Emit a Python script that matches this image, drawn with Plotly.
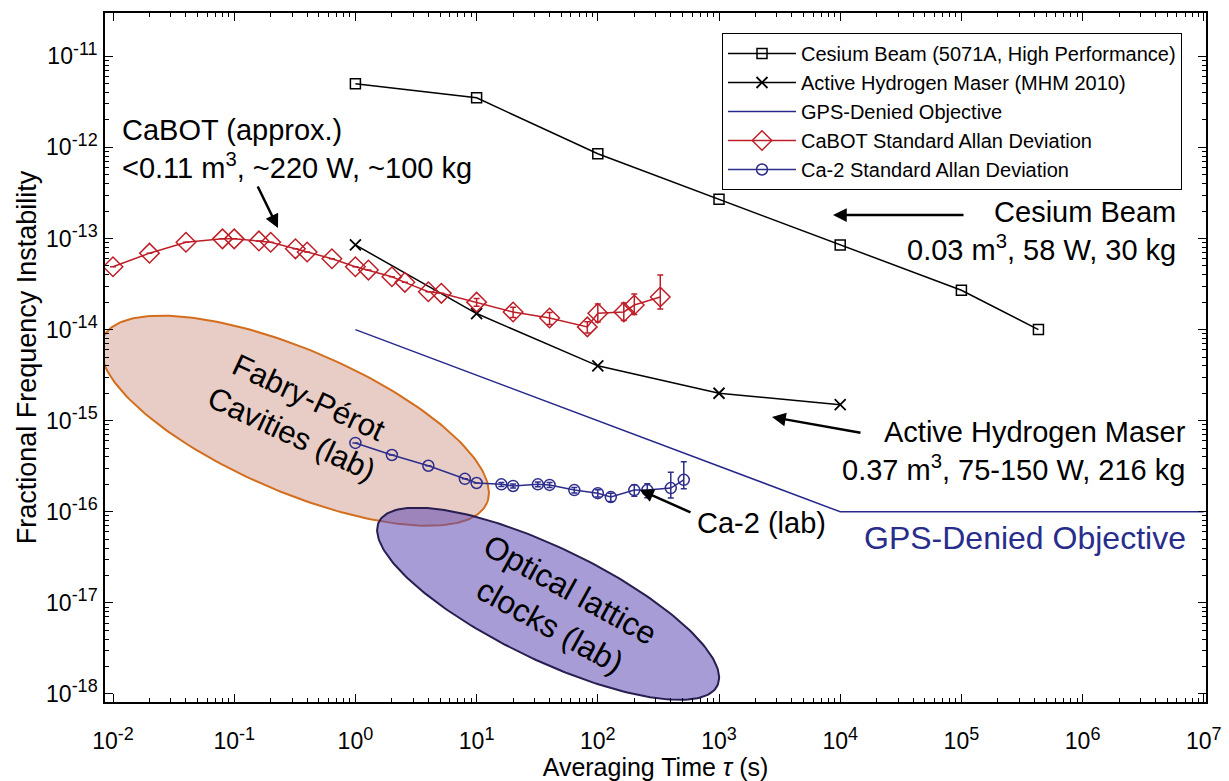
import numpy as np
import plotly.graph_objects as go

# ---------------- data ----------------
cs_tau = [1, 10, 100, 1000, 1e4, 1e5, 4.32e5]
cs_adev = [5e-12, 3.5e-12, 8.5e-13, 2.7e-13, 8.5e-14, 2.7e-14, 1e-14]

hm_tau = [1, 10, 100, 1000, 1e4]
hm_adev = [8.5e-14, 1.5e-14, 4e-15, 2e-15, 1.5e-15]

gps_tau = [1, 1e4, 1e7]
gps_adev = [1e-14, 1e-16, 1e-16]

cabot_tau = [0.01, 0.02, 0.04, 0.08, 0.1, 0.16, 0.2, 0.32, 0.4, 0.64, 1, 1.28,
             2, 2.56, 4, 5.12, 10, 20, 40, 81.92, 100, 163.84, 200, 327.68]
cabot_adev = [4.9e-14, 6.9e-14, 9.1e-14, 9.9e-14, 9.9e-14, 9.4e-14, 9.1e-14, 7.7e-14,
              7.1e-14, 6.0e-14, 4.9e-14, 4.5e-14, 3.8e-14, 3.3e-14, 2.6e-14, 2.5e-14,
              2.0e-14, 1.56e-14, 1.34e-14, 1.07e-14, 1.51e-14, 1.56e-14, 1.86e-14, 2.28e-14]
cabot_err_up = [0, 0, 0, 0, 0, 0, 0, 0, 0, 0, 0, 0, 0, 0, 0, 0,
                0.2e-14, 0.2e-14, 0.2e-14, 0.15e-14, 0.4e-14, 0.4e-14, 0.6e-14, 1.7e-14]
cabot_err_dn = [0, 0, 0, 0, 0, 0, 0, 0, 0, 0, 0, 0, 0, 0, 0, 0,
                0.2e-14, 0.2e-14, 0.2e-14, 0.15e-14, 0.3e-14, 0.3e-14, 0.4e-14, 0.6e-14]

ca2_tau = [1, 2, 4, 8, 10, 16, 20, 32, 40, 64, 100, 128, 200, 256, 400, 512]
ca2_adev = [5.7e-16, 4.2e-16, 3.2e-16, 2.3e-16, 2.07e-16, 2.0e-16, 1.92e-16, 2.0e-16,
            1.97e-16, 1.73e-16, 1.6e-16, 1.45e-16, 1.73e-16, 1.73e-16, 1.82e-16, 2.24e-16]
ca2_err_up = [0, 0, 0, 0, 0, 0.1e-16, 0.1e-16, 0.12e-16, 0.12e-16, 0.12e-16, 0.15e-16,
              0.15e-16, 0.25e-16, 0.3e-16, 0.9e-16, 1.3e-16]
ca2_err_dn = [0, 0, 0, 0, 0, 0.1e-16, 0.1e-16, 0.12e-16, 0.12e-16, 0.12e-16, 0.15e-16,
              0.15e-16, 0.25e-16, 0.3e-16, 0.4e-16, 0.45e-16]

x_tick_exp = [-2, -1, 0, 1, 2, 3, 4, 5, 6, 7]
y_tick_exp = [-18, -17, -16, -15, -14, -13, -12, -11]

# ---------------- layout geometry ----------------
W, H = 1229, 781
ML, MR, MT, MB = 105, 23, 13, 79
PW, PH = W - ML - MR, H - MT - MB
XR = [-2.066, 7.018]
YR = [-18.088, -10.525]
XPPD = PW / (XR[1] - XR[0])
YPPD = PH / (YR[1] - YR[0])
FONT = "Liberation Sans, Arial, sans-serif"


def paper(px, py):
    return (px - ML) / PW, (H - MB - py) / PH


def ellipse(cx, cy, a, b, theta_deg):
    t = np.linspace(0, 2 * np.pi, 240)
    th = np.deg2rad(theta_deg)
    dx = a * np.cos(t) * np.cos(th) - b * np.sin(t) * np.sin(th)
    dy = a * np.cos(t) * np.sin(th) + b * np.sin(t) * np.cos(th)
    return 10 ** (cx + dx / XPPD), 10 ** (cy - dy / YPPD)


def power_label(e):
    return f"10<sup><span style='font-size:18px'>{e}</span></sup>"


fig = go.Figure()

# region ellipses
ex, ey = ellipse(-0.5, -15.0, 209, 71, 23.2)
fig.add_trace(go.Scatter(x=ex, y=ey, mode="lines", fill="toself",
                         fillcolor="rgba(200,135,120,0.42)",
                         line=dict(color="rgb(210,110,30)", width=2),
                         showlegend=False, hoverinfo="skip"))
ex, ey = ellipse(1.59, -17.01, 188, 56, 25.8)
fig.add_trace(go.Scatter(x=ex, y=ey, mode="lines", fill="toself",
                         fillcolor="rgba(95,75,180,0.55)",
                         line=dict(color="rgb(40,30,80)", width=2),
                         showlegend=False, hoverinfo="skip"))

# data series
fig.add_trace(go.Scatter(x=cs_tau, y=cs_adev, mode="lines+markers",
                         name="Cesium Beam (5071A, High Performance)",
                         line=dict(color="black", width=1.5),
                         marker=dict(symbol="square-open", size=10, color="black",
                                     line=dict(width=1.5))))
fig.add_trace(go.Scatter(x=hm_tau, y=hm_adev, mode="lines+markers",
                         name="Active Hydrogen Maser (MHM 2010)",
                         line=dict(color="black", width=1.5),
                         marker=dict(symbol="x-thin-open", size=11, color="black",
                                     line=dict(width=1.8, color="black"))))
fig.add_trace(go.Scatter(x=gps_tau, y=gps_adev, mode="lines",
                         name="GPS-Denied Objective",
                         line=dict(color="rgb(40,40,140)", width=1.5)))
fig.add_trace(go.Scatter(x=cabot_tau, y=cabot_adev, mode="lines+markers",
                         name="CaBOT Standard Allan Deviation",
                         line=dict(color="rgb(190,30,40)", width=1.5),
                         marker=dict(symbol="diamond-open", size=15, color="rgb(190,30,40)",
                                     line=dict(width=1.5)),
                         error_y=dict(type="data", symmetric=False, array=cabot_err_up,
                                      arrayminus=cabot_err_dn, color="rgb(190,30,40)",
                                      thickness=1.5, width=3)))
fig.add_trace(go.Scatter(x=ca2_tau, y=ca2_adev, mode="lines+markers",
                         name="Ca-2 Standard Allan Deviation",
                         line=dict(color="rgb(45,45,140)", width=1.5),
                         marker=dict(symbol="circle-open", size=11, color="rgb(45,45,140)",
                                     line=dict(width=1.5)),
                         error_y=dict(type="data", symmetric=False, array=ca2_err_up,
                                      arrayminus=ca2_err_dn, color="rgb(45,45,140)",
                                      thickness=1.5, width=3)))

annotations = []


def text_ann(px, py, text, xanchor="left", yanchor="middle", align="left", size=29,
             color="black", angle=0):
    x, y = paper(px, py)
    annotations.append(dict(xref="paper", yref="paper", x=x, y=y, text=text,
                            showarrow=False, xanchor=xanchor, yanchor=yanchor,
                            align=align, textangle=angle,
                            font=dict(family=FONT, size=size, color=color)))


def arrow(hx, hy, tx, ty):
    x, y = paper(hx, hy)
    annotations.append(dict(xref="paper", yref="paper", x=x, y=y, text="",
                            showarrow=True, axref="pixel", ayref="pixel",
                            ax=tx - hx, ay=ty - hy, arrowhead=2, arrowsize=1.1,
                            arrowwidth=2.5, arrowcolor="black"))


text_ann(120, 149, "CaBOT (approx.)<br>&lt;0.11 m<sup>3</sup>, ~220 W, ~100 kg")
arrow(278, 228, 257, 185)
text_ann(1178, 231, "Cesium Beam<br>0.03 m<sup>3</sup>, 58 W, 30 kg", xanchor="right", align="right")
arrow(833, 215, 965, 215)
text_ann(1188, 451, "Active Hydrogen Maser<br>0.37 m<sup>3</sup>, 75-150 W, 216 kg",
         xanchor="right", align="right")
arrow(772, 417, 862, 433)
text_ann(695, 523, "Ca-2 (lab)")
arrow(640, 490, 692, 513)
text_ann(1188, 538, "GPS-Denied Objective", xanchor="right", align="right",
         size=32, color="rgb(40,45,140)")
text_ann(300, 415, "Fabry-Pérot<br>Cavities (lab)", xanchor="center", align="center",
         size=31, angle=25)
text_ann(560, 608, "Optical lattice<br>clocks (lab)", xanchor="center", align="center",
         size=32, angle=29)

x_minor = [m * 10.0 ** e for e in range(-2, 7) for m in range(2, 10)]
y_minor = [m * 10.0 ** e for e in range(-18, -11) for m in range(2, 10)]

axis_common = dict(type="log", showline=True, linecolor="black", linewidth=1.5,
                   mirror="ticks", ticks="inside", ticklen=8, tickwidth=1.2,
                   tickcolor="black", showgrid=False, zeroline=False, automargin=False,
                   tickfont=dict(family=FONT, size=23, color="black"))

fig.update_layout(
    width=W, height=H, autosize=False,
    margin=dict(l=ML, r=MR, t=MT, b=MB),
    paper_bgcolor="white", plot_bgcolor="white",
    font=dict(family=FONT, color="black"),
    xaxis=dict(range=XR,
               tickvals=[10.0 ** e for e in x_tick_exp],
               ticktext=[power_label(e) for e in x_tick_exp],
               minor=dict(tickvals=x_minor, ticks="inside", ticklen=4,
                          tickcolor="black", tickwidth=1, showgrid=False),
               ticklabelstandoff=18,
               title=dict(text="Averaging Time <i>τ</i> (s)",
                          font=dict(family=FONT, size=25, color="black"), standoff=4),
               **axis_common),
    yaxis=dict(range=YR,
               tickvals=[10.0 ** e for e in y_tick_exp],
               ticktext=[power_label(e) for e in y_tick_exp],
               minor=dict(tickvals=y_minor, ticks="inside", ticklen=4,
                          tickcolor="black", tickwidth=1, showgrid=False),
               ticklabelstandoff=1,
               title=dict(text="Fractional Frequency Instability",
                          font=dict(family=FONT, size=27, color="black"), standoff=2),
               **axis_common),
    legend=dict(x=paper(1182, 33)[0], y=paper(1182, 33)[1], xanchor="right",
                yanchor="top", bordercolor="black", borderwidth=1, bgcolor="white",
                font=dict(family=FONT, size=20, color="black"), itemwidth=68,
                tracegroupgap=0),
    annotations=annotations,
    showlegend=True,
)

fig.write_html("out.html", config={"displayModeBar": False},
               post_script="document.body.style.margin='0';")
